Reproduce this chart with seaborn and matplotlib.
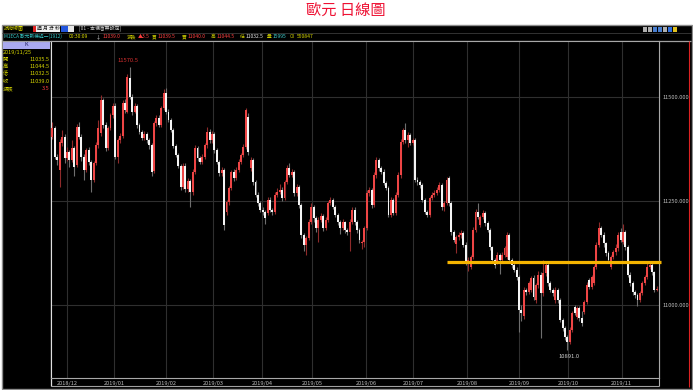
import matplotlib
matplotlib.use("Agg")
import numpy as np
import pandas as pd
import matplotlib.pyplot as plt
import seaborn as sns
from matplotlib.patches import Rectangle

# ---------------- data ----------------
opens = [
    11404, 11425, 11356, 11324, 11390, 11404, 11353, 11368, 11348, 11377,
    11335, 11428, 11404, 11356, 11324, 11372, 11344, 11300, 11341, 11384,
    11413, 11493, 11433, 11377, 11425, 11457, 11478, 11356, 11396, 11406,
    11485, 11464, 11546, 11500, 11464, 11478, 11433, 11416, 11401, 11411,
    11396, 11384, 11322, 11437, 11449, 11433, 11473, 11509, 11464, 11445,
    11421, 11382, 11360, 11334, 11284, 11334, 11279, 11298, 11271, 11320,
    11377, 11353, 11344, 11356, 11384, 11416, 11396, 11411, 11372, 11344,
    11317, 11324, 11223, 11247, 11281, 11320, 11305, 11324, 11344, 11360,
    11380, 11452, 11329, 11348, 11296, 11264, 11245, 11228, 11223, 11221,
    11252, 11228, 11223, 11264, 11271, 11276, 11257, 11296, 11329, 11312,
    11320, 11269, 11284, 11240, 11168, 11144, 11161, 11199, 11235, 11209,
    11185, 11204, 11214, 11185, 11204, 11245, 11252, 11235, 11216, 11199,
    11185, 11199, 11180, 11175, 11199, 11228, 11199, 11180, 11149, 11152,
    11185, 11269, 11276, 11240, 11312, 11348, 11329, 11320, 11293, 11281,
    11216, 11252, 11221, 11264, 11312, 11392, 11421, 11396, 11408, 11389,
    11396, 11300, 11296, 11288, 11252, 11223, 11216, 11257, 11264, 11269,
    11276, 11288, 11235, 11245, 11305, 11245, 11175, 11146, 11163, 11168,
    11173, 11144, 11103, 11091, 11115, 11180, 11223, 11192, 11211, 11221,
    11197, 11180, 11139, 11108, 11103, 11120, 11108, 11120, 11115, 11168,
    11108, 11096, 11084, 11067, 10988, 10972, 11036, 11031, 11036, 11065,
    11012, 11048, 11072, 11029, 11077, 11096, 11053, 11036, 11012, 11036,
    11012, 10964, 10945, 10923, 10911, 10940, 10995, 10971, 10993, 10969,
    10983, 11007, 11060, 11043, 11053, 11091, 11144, 11185, 11168, 11149,
    11125, 11091, 11115, 11127, 11137, 11175, 11151, 11175, 11139, 11072,
    11053, 11031, 11024, 11012, 11029, 11053, 11067, 11090, 11096, 11079,
    11035.5,
]
highs = [
    11440, 11430, 11362, 11398, 11420, 11410, 11380, 11372, 11395, 11382,
    11435, 11440, 11410, 11362, 11378, 11380, 11348, 11346, 11392, 11445,
    11505, 11498, 11440, 11430, 11462, 11485, 11484, 11402, 11412, 11492,
    11495, 11555, 11570.5, 11506, 11485, 11482, 11438, 11420, 11418, 11415,
    11400, 11388, 11442, 11456, 11455, 11478, 11518, 11521, 11470, 11450,
    11425, 11386, 11364, 11338, 11340, 11340, 11305, 11302, 11326, 11384,
    11382, 11358, 11362, 11390, 11428, 11422, 11418, 11415, 11378, 11348,
    11330, 11328, 11252, 11286, 11325, 11326, 11330, 11350, 11366, 11386,
    11474, 11460, 11355, 11352, 11300, 11270, 11250, 11234, 11228, 11258,
    11258, 11232, 11270, 11280, 11290, 11282, 11300, 11335, 11340, 11326,
    11324, 11290, 11288, 11244, 11172, 11166, 11205, 11245, 11240, 11214,
    11210, 11220, 11218, 11210, 11250, 11258, 11256, 11240, 11220, 11204,
    11205, 11202, 11185, 11205, 11234, 11236, 11204, 11185, 11156, 11190,
    11275, 11282, 11280, 11318, 11356, 11352, 11334, 11326, 11298, 11286,
    11258, 11257, 11270, 11318, 11398, 11426, 11438, 11415, 11412, 11402,
    11400, 11306, 11300, 11292, 11256, 11228, 11262, 11270, 11275, 11282,
    11294, 11292, 11250, 11306, 11310, 11250, 11180, 11168, 11175, 11180,
    11178, 11150, 11115, 11120, 11186, 11230, 11245, 11216, 11228, 11226,
    11202, 11184, 11142, 11112, 11126, 11124, 11126, 11142, 11174, 11172,
    11112, 11100, 11090, 11072, 11000, 11042, 11040, 11058, 11070, 11072,
    11052, 11080, 11078, 11108, 11102, 11100, 11058, 11040, 11042, 11040,
    11016, 10968, 10950, 10928, 10946, 10986, 11000, 10998, 10998, 10985,
    11012, 11054, 11065, 11072, 11096, 11150, 11200, 11190, 11174, 11152,
    11130, 11120, 11132, 11145, 11175, 11185, 11195, 11180, 11144, 11078,
    11058, 11036, 11028, 11034, 11058, 11072, 11100, 11105, 11100, 11082,
    11044.5,
]
lows = [
    11398, 11350, 11336, 11284, 11382, 11340, 11345, 11330, 11342, 11310,
    11330, 11398, 11345, 11300, 11318, 11336, 11270, 11294, 11336, 11378,
    11405, 11425, 11370, 11372, 11420, 11450, 11350, 11340, 11390, 11400,
    11460, 11460, 11494, 11455, 11460, 11425, 11410, 11395, 11395, 11390,
    11375, 11310, 11316, 11430, 11428, 11428, 11468, 11458, 11440, 11415,
    11376, 11354, 11328, 11276, 11278, 11272, 11270, 11236, 11265, 11314,
    11346, 11338, 11338, 11350, 11378, 11390, 11390, 11366, 11338, 11310,
    11310, 11180, 11215, 11240, 11275, 11298, 11300, 11318, 11338, 11354,
    11375, 11360, 11322, 11288, 11258, 11238, 11222, 11216, 11195, 11215,
    11222, 11216, 11218, 11258, 11266, 11250, 11252, 11290, 11306, 11306,
    11262, 11262, 11232, 11160, 11130, 11120, 11155, 11194, 11200, 11176,
    11150, 11198, 11178, 11180, 11198, 11240, 11230, 11210, 11192, 11170,
    11180, 11172, 11168, 11130, 11194, 11192, 11172, 11148, 11135, 11140,
    11180, 11262, 11232, 11235, 11305, 11322, 11314, 11288, 11276, 11210,
    11210, 11215, 11216, 11258, 11305, 11386, 11390, 11380, 11384, 11384,
    11294, 11288, 11280, 11246, 11218, 11210, 11210, 11252, 11260, 11264,
    11270, 11228, 11225, 11240, 11238, 11168, 11150, 11125, 11155, 11160,
    11138, 11095, 11080, 11085, 11110, 11176, 11205, 11186, 11205, 11190,
    11174, 11132, 11100, 11088, 11098, 11075, 11100, 11114, 11110, 11100,
    11088, 11078, 11060, 10935, 10960, 10965, 11024, 11026, 11030, 11012,
    11005, 11040, 10920, 11022, 11070, 11046, 11030, 11020, 11005, 11005,
    10958, 10938, 10915, 10891, 10905, 10935, 10975, 10965, 10962, 10950,
    10978, 11002, 11038, 11038, 11048, 11086, 11138, 11162, 11140, 11118,
    11100, 11085, 11110, 11120, 11130, 11150, 11146, 11132, 11066, 11046,
    11024, 11016, 10996, 11006, 11024, 11048, 11062, 11086, 11072, 11030,
    11032.5,
]
closes = [
    11425, 11356, 11348, 11392, 11404, 11353, 11368, 11348, 11377, 11332,
    11428, 11404, 11356, 11324, 11372, 11344, 11300, 11341, 11384, 11425,
    11493, 11433, 11377, 11425, 11457, 11478, 11356, 11396, 11406, 11485,
    11469, 11548, 11500, 11464, 11478, 11433, 11416, 11401, 11411, 11396,
    11384, 11320, 11437, 11449, 11433, 11473, 11509, 11464, 11445, 11421,
    11382, 11360, 11334, 11284, 11334, 11279, 11298, 11271, 11320, 11377,
    11353, 11344, 11356, 11384, 11416, 11396, 11411, 11372, 11344, 11317,
    11324, 11192, 11247, 11281, 11320, 11305, 11324, 11344, 11360, 11380,
    11469, 11368, 11348, 11296, 11264, 11245, 11228, 11223, 11209, 11252,
    11228, 11223, 11264, 11271, 11276, 11257, 11296, 11329, 11312, 11320,
    11269, 11284, 11240, 11168, 11144, 11161, 11199, 11235, 11209, 11185,
    11204, 11214, 11185, 11204, 11245, 11252, 11235, 11216, 11199, 11185,
    11199, 11180, 11175, 11199, 11228, 11199, 11180, 11156, 11152, 11185,
    11269, 11276, 11240, 11312, 11348, 11329, 11320, 11293, 11281, 11216,
    11252, 11221, 11264, 11312, 11392, 11421, 11396, 11408, 11389, 11396,
    11300, 11296, 11288, 11252, 11223, 11216, 11257, 11264, 11269, 11276,
    11288, 11235, 11245, 11300, 11245, 11175, 11156, 11163, 11168, 11173,
    11144, 11103, 11108, 11115, 11180, 11223, 11211, 11211, 11221, 11197,
    11180, 11139, 11108, 11096, 11120, 11108, 11120, 11137, 11168, 11108,
    11096, 11084, 11067, 10988, 10981, 11036, 11031, 11053, 11065, 11019,
    11048, 11072, 11029, 11077, 11096, 11053, 11036, 11029, 11036, 11012,
    10964, 10945, 10923, 10911, 10940, 10981, 10981, 10993, 10969, 10957,
    11007, 11048, 11043, 11067, 11091, 11144, 11185, 11168, 11149, 11125,
    11108, 11115, 11127, 11137, 11168, 11156, 11175, 11139, 11072, 11053,
    11031, 11024, 11012, 11029, 11053, 11067, 11091, 11096, 11079, 11035.5,
    11039,
]

month_labels = ["2018/12", "2019/01", "2019/02", "2019/03", "2019/04", "2019/05",
                "2019/06", "2019/07", "2019/08", "2019/09", "2019/10", "2019/11"]
month_start_idx = [6.2, 25.6, 47.1, 66.5, 86.8, 107.4, 129.8, 149.2, 171.5, 193.0, 213.2, 235.5]
y_ticks = [11000, 11250, 11500]
support_level = 11103
support_start_idx = 163.2
support_end_idx = 251.7

title = "歐元 日線圖"
last_date = "2019/11/25"
panel_labels = ["開", "高", "低", "收", "漲跌"]
panel_values = ["11035.5", "11044.5", "11032.5", "11039.0", "3.5"]
quote_pairs = [("漲跌", "▲3.5"), ("買", "11039.5"), ("賣", "11040.0"), ("高", "11044.5"),
               ("低", "11032.5"), ("量", "15995"), ("OI", "550847")]

# ---------------- style ----------------
sns.set_theme(style="dark")
plt.rcParams['font.family'] = ['Noto Sans CJK TC', 'DejaVu Sans']
plt.rcParams['axes.unicode_minus'] = False

W, H = 693, 390
fig = plt.figure(figsize=(W / 100, H / 100), dpi=100, facecolor='white')

# background / window chrome in pixel coordinates
bg = fig.add_axes([0, 0, 1, 1], zorder=0)
bg.set_xlim(0, W)
bg.set_ylim(H, 0)
bg.axis('off')


def box(x0, y0, x1, y1, fc, ec='none', lw=0.8, z=1):
    bg.add_patch(Rectangle((x0, y0), x1 - x0, y1 - y0, facecolor=fc,
                           edgecolor=ec, linewidth=lw, zorder=z))


def txt(x, y, s, c, size=4.2, ha='left', **kw):
    bg.text(x, y, s, color=c, fontsize=size, ha=ha, va='center', zorder=5, **kw)


def hline(x0, x1, y, c, lw=0.8):
    bg.plot([x0, x1], [y, y], color=c, lw=lw, zorder=4, solid_capstyle='butt')


def vline(x, y0, y1, c, lw=0.8):
    bg.plot([x, x], [y0, y1], color=c, lw=lw, zorder=4, solid_capstyle='butt')


bg.text(346, 11, title, color='#ee1133', fontsize=11, ha='center', va='center')

box(1.5, 24.5, 691.5, 388.5, 'black', '#8c8c8c', 1.0)
hline(2, 691, 32.5, '#3a3a3a', 0.6)

# toolbar row
txt(4, 28.5, "技術線圖", '#d8d800', 3.6)
box(32.5, 25.5, 36, 31.5, '#dd2222', z=2)
box(36, 25.5, 60, 31.5, '#f0f0f0', z=2)
txt(37, 28.5, "週 月 分 秒", '#202020', 3.5)
box(61, 25.5, 68, 31.5, '#2255dd', z=2)
box(68, 25.5, 74, 31.5, '#e6e6e6', z=2)
txt(79, 28.5, "[01 - 本視窗無設定]", '#d0d0d0', 3.5)
icon_cols = ['#b0b0b0', '#b0b0b0', '#4a7fd0', '#4a7fd0', '#b0b0b0', '#3070e0', '#e0c020']
for k, col in enumerate(icon_cols):
    box(643 + 5 * k, 27, 647 + 5 * k, 32, col, z=2)

# quote row
qy = 36.5
txt(4, qy, "M1ECA 歐元新機近一(1912)", '#35c8c8', 3.4)
txt(69, qy, "00:30:09", '#e0e000', 3.6)
txt(96, qy, "↓", '#e0e0e0', 3.6)
txt(103, qy, "11039.0", '#ff4040', 3.6)
pair_x = [127, 152, 182, 211, 240, 267, 290]
pair_off = [10.5, 5.5, 5.5, 5.5, 5.5, 5.5, 6.5]
pair_val_col = ['#ff4040', '#ff4040', '#ff4040', '#ff4040', '#e8e8e8', '#40d0d0', '#d8d800']
for (lab, val), px, off, vc in zip(quote_pairs, pair_x, pair_off, pair_val_col):
    txt(px, qy, lab, '#c8c800', 3.4)
    txt(px + off, qy, val, vc, 3.6)

# frame lines
hline(2, 691, 41, '#a0a0a0', 0.9)
hline(51, 659, 386, '#a0a0a0', 0.8)
vline(50.5, 41, 386, '#e0e0e0', 0.9)
vline(659, 41, 386, '#b0b0b0', 0.8)
vline(688.5, 41, 387, '#dd2222', 0.8)

# left info panel
box(2.5, 41.5, 50, 48.5, '#a9a9f0', z=2)
txt(26, 45, "K", '#202060', 4.0, ha='center')
txt(3, 52.3, last_date, '#d6d600', 4.0)
for k, (lab, val) in enumerate(zip(panel_labels, panel_values)):
    yy = 59.3 + 7.3 * k
    txt(3, yy, lab, '#d6d600', 3.8)
    txt(49.5, yy, val, '#ff4040' if k == 4 else '#d6d600', 4.0, ha='right')

# ---------------- main candlestick axes ----------------
ax = fig.add_axes([51 / W, (H - 378) / H, 608 / W, 337 / H], zorder=2)
ax.set_facecolor('black')

df = pd.DataFrame({"open": opens, "high": highs, "low": lows, "close": closes})
df["idx"] = np.arange(len(df))
up = (df["close"] >= df["open"]).to_numpy()

ax.vlines(df["idx"], df["low"], df["high"],
          colors=np.where(up, '#8f2a2a', '#6e6e6e'), linewidth=0.8, zorder=2)
body_bottom = np.minimum(df["open"], df["close"])
body_h = np.maximum((df["close"] - df["open"]).abs(), 2.6)
ax.bar(df["idx"], body_h, bottom=body_bottom, width=0.8,
       color=np.where(up, '#ee4545', '#f4f4f4'), linewidth=0, zorder=3)

# support line
sup = pd.DataFrame({"x": [support_start_idx, support_end_idx],
                    "y": [support_level, support_level]})
sns.lineplot(data=sup, x="x", y="y", ax=ax, color='#f5b400', linewidth=2.3, zorder=4)
ax.lines[-1].set_clip_on(False)
ax.lines[-1].set_solid_capstyle('butt')

# extremes
imax = int(np.argmax(highs))
imin = int(np.argmin(lows))
ax.annotate(f"{highs[imax]:.1f}", (imax, highs[imax]), xytext=(-1, 3),
            textcoords='offset points', ha='center', va='bottom',
            fontsize=4.2, color='#d83030')
ax.annotate(f"{lows[imin]:.1f}", (imin, lows[imin]), xytext=(1, -3),
            textcoords='offset points', ha='center', va='top',
            fontsize=4.2, color='#cfcfcf')

ax.set_xlim(-0.6, 250.9)
ax.set_ylim(10824, 11634)
ax.set_xlabel("")
ax.set_ylabel("")

ax.set_xticks(month_start_idx)
ax.set_xticklabels(month_labels)
ax.yaxis.tick_right()
ax.set_yticks(y_ticks)
ax.set_yticklabels([f"{v:.3f}" for v in y_ticks])
ax.tick_params(axis='x', length=0, pad=1.8, labelsize=4.1, labelcolor='#bdbdbd')
ax.tick_params(axis='y', length=0, pad=2.5, labelsize=4.1, labelcolor='#bdbdbd')
ax.grid(True, color='#2f2f2f', linewidth=0.8)
ax.set_axisbelow(True)
for name, sp in ax.spines.items():
    sp.set_color('#e0e0e0' if name == 'left' else '#a8a8a8')
    sp.set_linewidth(0.8)

fig.savefig("out.png", dpi=100, facecolor='white')
